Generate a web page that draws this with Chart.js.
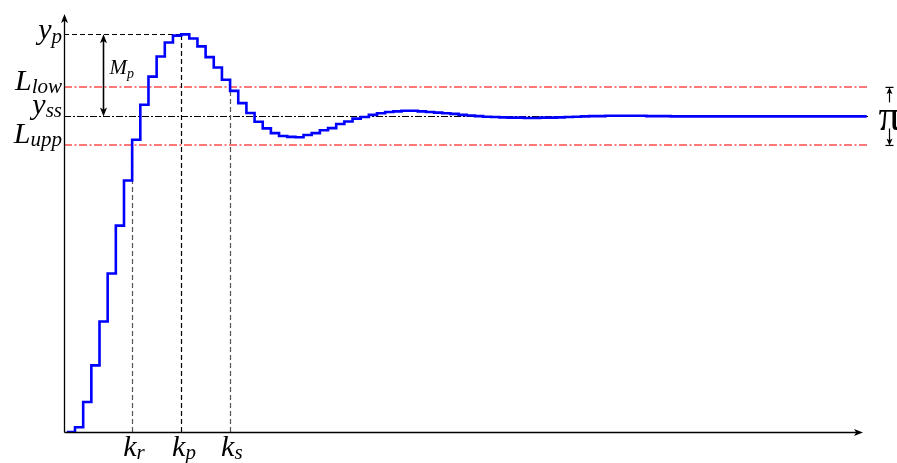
<!DOCTYPE html>
<html>
<head>
<meta charset="utf-8">
<script src="https://cdn.jsdelivr.net/npm/chart.js@4"></script>
<style>
  html, body { margin: 0; padding: 0; background: #fff; }
  canvas { display: block; }
</style>
</head>
<body>
<canvas id="c" width="897" height="463"></canvas>
<script>
// Sample index k of the discrete step response
const samples = [];
for (let k = 0; k <= 98; k++) samples.push(k);

// Output y[k] (steady state normalised to 1)
const response = [
  0.000, 0.015, 0.095, 0.211, 0.350, 0.502, 0.654, 0.797, 0.926, 1.037,
  1.126, 1.190, 1.234, 1.256, 1.260, 1.247, 1.222, 1.188, 1.155, 1.116,
  1.081, 1.042, 1.011, 0.983, 0.962, 0.947, 0.938, 0.935, 0.934, 0.941,
  0.947, 0.956, 0.963, 0.976, 0.984, 0.993, 0.998, 1.005, 1.010, 1.014,
  1.016, 1.018, 1.018, 1.016, 1.014, 1.012, 1.010, 1.008, 1.005, 1.003,
  1.001, 0.999, 0.998, 0.997, 0.996, 0.996, 0.995, 0.995, 0.996, 0.996,
  0.997, 0.998, 0.999, 1.000, 1.001, 1.001, 1.002, 1.002, 1.002, 1.002,
  1.002, 1.001, 1.001, 1.001, 1.000, 1.000, 1.000, 1.000, 1.000, 1.000,
  1.000, 1.000, 1.000, 1.000, 1.000, 1.000, 1.000, 1.000, 1.000, 1.000,
  1.000, 1.000, 1.000, 1.000, 1.000, 1.000, 1.000, 1.000, 1.000
];

// Characteristic levels
const levelNames  = ['yp', 'Llow', 'yss', 'Lupp'];
const levelValues = [1.260, 1.092, 1.000, 0.908];

// Characteristic instants: rise, peak, settling
const instantNames  = ['kr', 'kp', 'ks'];
const instantValues = [8, 14, 20];

const MATH = '"Liberation Serif"';

function mathLabel(ctx, main, sub, x, base, size, subSize, drop, align) {
  ctx.font = 'italic ' + size + 'px ' + MATH;
  const wm = ctx.measureText(main).width;
  ctx.font = 'italic ' + subSize + 'px ' + MATH;
  const ws = ctx.measureText(sub).width;
  const left = align === 'right' ? x - wm - ws : x;
  ctx.textAlign = 'left';
  ctx.textBaseline = 'alphabetic';
  ctx.fillStyle = '#000';
  ctx.font = 'italic ' + size + 'px ' + MATH;
  ctx.fillText(main, left, base);
  ctx.font = 'italic ' + subSize + 'px ' + MATH;
  ctx.fillText(sub, left + wm, base + drop);
}

function arrowHead(ctx, x, y, dir, len, half) {
  // dir: 'up' | 'down' | 'right'
  ctx.beginPath();
  if (dir === 'up') {
    ctx.moveTo(x, y); ctx.lineTo(x - half, y + len); ctx.lineTo(x, y + len * 0.75); ctx.lineTo(x + half, y + len);
  } else if (dir === 'down') {
    ctx.moveTo(x, y); ctx.lineTo(x - half, y - len); ctx.lineTo(x, y - len * 0.75); ctx.lineTo(x + half, y - len);
  } else {
    ctx.moveTo(x, y); ctx.lineTo(x - len, y - half); ctx.lineTo(x - len * 0.75, y); ctx.lineTo(x - len, y + half);
  }
  ctx.closePath();
  ctx.fill();
}

function hLine(ctx, y, x0, x1, color, dash, w) {
  ctx.save();
  ctx.strokeStyle = color; ctx.lineWidth = w; ctx.setLineDash(dash);
  ctx.beginPath(); ctx.moveTo(x0, y); ctx.lineTo(x1, y); ctx.stroke();
  ctx.restore();
}
function vLine(ctx, x, y0, y1, color, dash, w) {
  ctx.save();
  ctx.strokeStyle = color; ctx.lineWidth = w; ctx.setLineDash(dash);
  ctx.beginPath(); ctx.moveTo(x, y0); ctx.lineTo(x, y1); ctx.stroke();
  ctx.restore();
}

const guides = {
  id: 'guides',
  beforeDatasetsDraw(chart) {
    const { ctx, chartArea, scales: { x, y } } = chart;
    const lv = n => y.getPixelForValue(levelValues[levelNames.indexOf(n)]);
    const kx = n => Math.round(x.getPixelForValue(instantValues[instantNames.indexOf(n)])) + 0.5;
    const y0 = y.getPixelForValue(0);
    const left = chartArea.left;
    const right = chartArea.right - 3;
    const xp = kx('kp');
    const red = 'rgba(255,30,30,0.8)';

    hLine(ctx, Math.round(lv('yp')) + 0.5, left, xp, '#000', [5, 3], 1.2);
    hLine(ctx, Math.round(lv('Llow')), left, right, red, [8, 2.5, 2, 2.5], 1.4);
    hLine(ctx, Math.round(lv('yss')) + 0.5, left, right, '#000', [7, 2, 2, 2], 1.2);
    hLine(ctx, Math.round(lv('Lupp')), left, right, red, [8, 2.5, 2, 2.5], 1.4);

    vLine(ctx, kx('kr'), y0, lv('Lupp'), '#555', [5, 3], 1.2);
    vLine(ctx, xp, y0, lv('yp'), '#000', [5, 3], 1.2);
    vLine(ctx, kx('ks'), y0, lv('Llow'), '#555', [5, 3], 1.2);
  },
  afterDraw(chart) {
    const { ctx, chartArea, scales: { x, y } } = chart;
    const lv = n => y.getPixelForValue(levelValues[levelNames.indexOf(n)]);
    const kx = n => x.getPixelForValue(instantValues[instantNames.indexOf(n)]);
    const y0 = Math.round(y.getPixelForValue(0)) + 0.5;
    const ax = chartArea.left + 0.5;

    ctx.save();
    ctx.fillStyle = '#000';
    ctx.strokeStyle = '#000';
    ctx.lineWidth = 1.3;
    // axes
    ctx.beginPath(); ctx.moveTo(ax, y0); ctx.lineTo(ax, chartArea.top + 4); ctx.stroke();
    arrowHead(ctx, ax, chartArea.top, 'up', 9, 3.5);
    const xr = chartArea.right - 9;
    ctx.beginPath(); ctx.moveTo(ax, y0); ctx.lineTo(xr - 4, y0); ctx.stroke();
    arrowHead(ctx, xr, y0, 'right', 9, 3.5);

    // overshoot M_p
    const mx = ax + 39;
    const yp = lv('yp'), yss = lv('yss');
    ctx.lineWidth = 1.6;
    ctx.beginPath(); ctx.moveTo(mx, yp + 5); ctx.lineTo(mx, yss - 5); ctx.stroke();
    arrowHead(ctx, mx, yp, 'up', 9, 3.5);
    arrowHead(ctx, mx, yss, 'down', 9, 3.5);
    mathLabel(ctx, 'M', 'p', mx + 6, yp + 40, 21, 14, 4, 'left');

    // tolerance band marker
    const px = 889.5;
    const yl = lv('Llow'), yu = lv('Lupp');
    ctx.lineWidth = 1.2;
    ctx.beginPath(); ctx.moveTo(px, yl + 4); ctx.lineTo(px, yl + 15); ctx.stroke();
    ctx.beginPath(); ctx.moveTo(px, yu - 4); ctx.lineTo(px, yu - 17); ctx.stroke();
    ctx.beginPath(); ctx.moveTo(px - 4, yl); ctx.lineTo(px + 4, yl); ctx.stroke();
    ctx.beginPath(); ctx.moveTo(px - 4, yu); ctx.lineTo(px + 4, yu); ctx.stroke();
    arrowHead(ctx, px, yl, 'up', 7, 3);
    arrowHead(ctx, px, yu, 'down', 7, 3);
    ctx.font = '44px ' + MATH;
    ctx.textAlign = 'center';
    ctx.textBaseline = 'alphabetic';
    ctx.fillText('π', px, yss + 14);

    // level labels
    const lx = 62;
    mathLabel(ctx, 'y', 'p', lx, lv('yp') + 5, 30, 21, 4, 'right');
    mathLabel(ctx, 'L', 'low', lx, lv('Llow') + 3, 30, 21, 3, 'right');
    mathLabel(ctx, 'y', 'ss', lx, lv('yss') - 2, 30, 21, 3, 'right');
    mathLabel(ctx, 'L', 'upp', lx, lv('Lupp') - 2, 30, 21, 3, 'right');

    // instant labels
    mathLabel(ctx, 'k', 'r', kx('kr') - 9, 456, 30, 21, 3, 'left');
    mathLabel(ctx, 'k', 'p', kx('kp') - 9, 456, 30, 21, 3, 'left');
    mathLabel(ctx, 'k', 's', kx('ks') - 9, 456, 30, 21, 3, 'left');
    ctx.restore();
  }
};

new Chart(document.getElementById('c').getContext('2d'), {
  type: 'line',
  data: {
    datasets: [{
      data: samples.map((k, i) => ({ x: k, y: response[i] })),
      stepped: 'before',
      borderColor: '#0000ff',
      borderWidth: 2.6,
      pointRadius: 0,
      fill: false
    }]
  },
  options: {
    responsive: false,
    animation: false,
    events: [],
    layout: { padding: { left: 64, right: 25, top: 14, bottom: 31 } },
    scales: {
      x: { type: 'linear', display: false, min: -0.35, max: 98.65 },
      y: { type: 'linear', display: false, min: 0, max: 1.3245 }
    },
    plugins: { legend: { display: false }, tooltip: { enabled: false } }
  },
  plugins: [guides]
});
</script>
</body>
</html>
